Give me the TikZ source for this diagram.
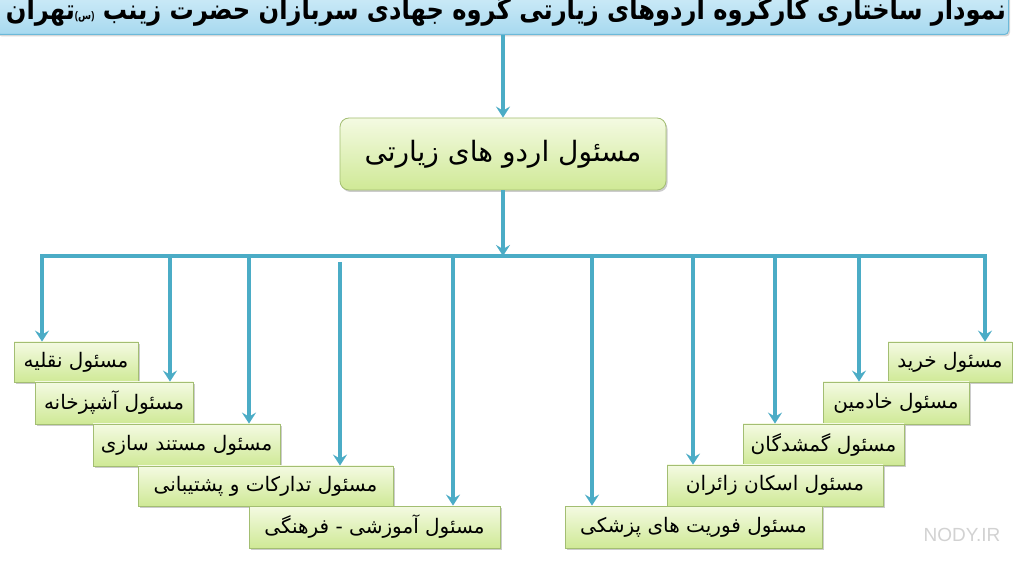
\documentclass[tikz,border=0pt]{standalone}
\usepackage{fontspec}
\usetikzlibrary{arrows.meta,shadows}
\TeXXeTstate=1
\newfontfamily\fa[Script=Arabic]{DejaVu Sans}
\newfontfamily\wm{Liberation Sans}
\definecolor{arrowblue}{HTML}{4BACC6}
\definecolor{gtop}{HTML}{F4FAE2}
\definecolor{gbot}{HTML}{CFE996}
\definecolor{gborder}{HTML}{A3BE72}
\definecolor{htop}{HTML}{DDF2FB}
\definecolor{hbot}{HTML}{A7D9EF}
\definecolor{hborder}{HTML}{6CB9D9}
\begin{document}
\begin{tikzpicture}[x=1pt,y=-1pt,
  role/.style={draw=gborder, line width=0.8pt, top color=gtop, bottom color=gbot,
    drop shadow={shadow xshift=1.5pt,shadow yshift=-2pt,opacity=0.4},
    inner sep=0pt, font=\fa\fontsize{20}{24}\selectfont, text=black},
  arr/.style={draw=arrowblue, line width=3.2pt, -{Stealth[length=11pt,width=14pt,inset=4pt]}}]
\useasboundingbox (0,0) rectangle (1013,561);
\clip (0,0) rectangle (1013,561);
\fill[white] (0,0) rectangle (1013,561);

% header
\node[draw=hborder, line width=1pt, top color=htop, bottom color=hbot, rounded corners=4pt,
  minimum width=1012pt, minimum height=56pt, inner sep=0pt, anchor=south west,
  drop shadow={shadow xshift=1.5pt,shadow yshift=-2pt,opacity=0.3}] (H) at (-4,35) {};
\node[font=\fa\bfseries\fontsize{28}{30}\selectfont, inner sep=0pt] (HT) at (506,10)
  {\resizebox{1000pt}{\height}{\beginR نمودار ساختاری کارگروه اردوهای زیارتی گروه جهادی سربازان حضرت زینب \mbox{\beginL{\wm\fontsize{11}{12}\selectfont(}{\fontsize{11}{12}\selectfont س}{\wm\fontsize{11}{12}\selectfont)}\endL}تهران\endR}};

% centre
\node[role, rounded corners=9pt, minimum width=326pt, minimum height=72pt,
  font=\fa\fontsize{28}{32}\selectfont] (C) at (503,154) {\beginR مسئول اردو های زیارتی\endR};

% left boxes
\node[role, minimum width=124pt, minimum height=40pt] (L1) at (76,362) {\beginR مسئول نقلیه\endR};
\node[role, minimum width=158pt, minimum height=42pt] (L2) at (114,403) {\beginR مسئول آشپزخانه\endR};
\node[role, minimum width=187pt, minimum height=42pt] (L3) at (186.5,445) {\beginR مسئول مستند سازی\endR};
\node[role, minimum width=255pt, minimum height=40pt] (L4) at (265.5,486) {\beginR مسئول تدارکات و پشتیبانی\endR};
\node[role, minimum width=251pt, minimum height=42pt] (L5) at (374.5,527) {\beginR مسئول آموزشی - فرهنگی\endR};

% right boxes
\node[role, minimum width=124pt, minimum height=40pt] (R1) at (950,362) {\beginR مسئول خرید\endR};
\node[role, minimum width=146pt, minimum height=42pt] (R2) at (896,403) {\beginR مسئول خادمین\endR};
\node[role, minimum width=161pt, minimum height=41pt] (R3) at (823.5,444.5) {\beginR مسئول گمشدگان\endR};
\node[role, minimum width=216pt, minimum height=41pt] (R4) at (775,485.5) {\beginR مسئول اسکان زائران\endR};
\node[role, minimum width=257pt, minimum height=42pt] (R5) at (693.5,527) {\beginR مسئول فوریت های پزشکی\endR};

% connectors
\coordinate (jm) at (503,256);
\coordinate (x1) at (42,256);
\coordinate (x2) at (170,256);
\coordinate (x3) at (249,256);
\coordinate (x4) at (340,262);
\coordinate (x5) at (453,256);
\coordinate (y1) at (985,256);
\coordinate (y2) at (859,256);
\coordinate (y3) at (775,256);
\coordinate (y4) at (693,256);
\coordinate (y5) at (592,256);

\draw[arr] (H.south -| C.north) -- (C.north);
\draw[arr] (C.south) -- (jm);
\draw[arr] (jm) -| (x1 |- L1.north);
\draw[arr] (jm) -| (y1 |- R1.north);
\draw[arr] (x2) -- (x2 |- L2.north);
\draw[arr] (x3) -- (x3 |- L3.north);
\draw[arr] (x4) -- (x4 |- L4.north);
\draw[arr] (x5) -- (x5 |- L5.north);
\draw[arr] (y2) -- (y2 |- R2.north);
\draw[arr] (y3) -- (y3 |- R3.north);
\draw[arr] (y4) -- (y4 |- R4.north);
\draw[arr] (y5) -- (y5 |- R5.north);

% watermark
\node[font=\wm\fontsize{19}{20}\selectfont, text=gray!35, inner sep=0pt] (WM) at (962,535) {NODY.IR};
\end{tikzpicture}
\end{document}
